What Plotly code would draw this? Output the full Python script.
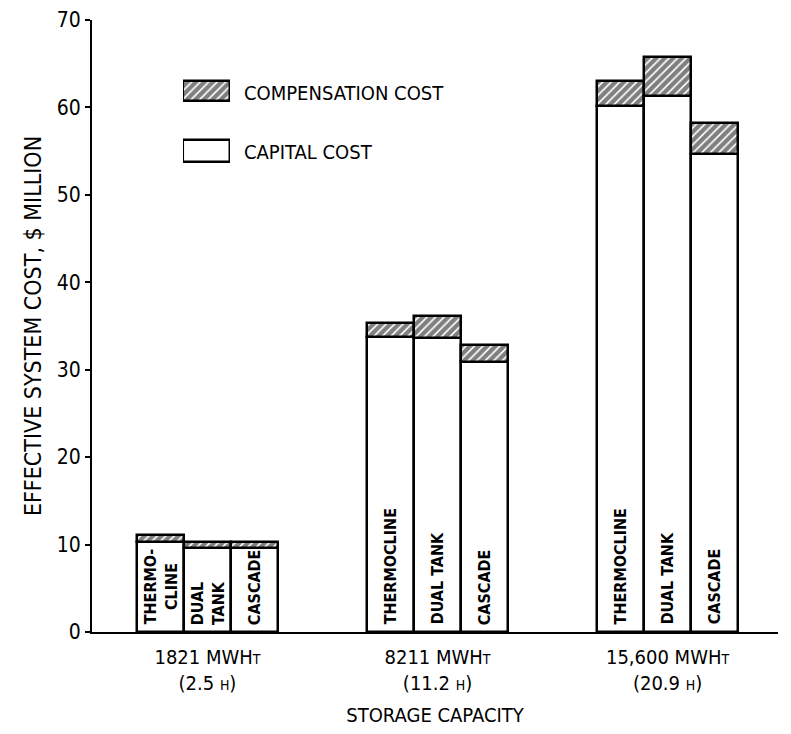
import plotly.graph_objects as go
import numpy as np

# ---- data ----
capacity_line1 = ["1821 MWH", "8211 MWH", "15,600 MWH"]
capacity_line2 = ["(2.5 ", "(11.2 ", "(20.9 "]
system_types = ["THERMOCLINE", "DUAL TANK", "CASCADE"]
group1_labels = ["THERMO-<br>CLINE", "DUAL<br>TANK", "CASCADE"]

capital_thermocline = [10.3, 33.7, 60.2]
capital_dualtank = [9.6, 33.6, 61.3]
capital_cascade = [9.6, 30.9, 54.7]

comp_thermocline = [0.8, 1.7, 2.8]
comp_dualtank = [0.7, 2.6, 4.5]
comp_cascade = [0.7, 1.9, 3.5]

y_ticks = [0, 10, 20, 30, 40, 50, 60, 70]

# ---- styling ----
FONT = "Liberation Sans Narrow, DejaVu Sans Condensed, Roboto Condensed, sans-serif"
BAR_W = 0.204
HATCH = dict(shape="/", fgcolor="black", bgcolor="white", size=6, solidity=0.72)
capital = [capital_thermocline, capital_dualtank, capital_cascade]
comp = [comp_thermocline, comp_dualtank, comp_cascade]

fig = go.Figure()
groups = np.arange(len(capacity_line1))
for k, name in enumerate(system_types):
    xs = groups + (k - 1) * BAR_W
    fig.add_trace(go.Bar(
        x=xs, y=capital[k], width=BAR_W,
        marker=dict(color="white", line=dict(color="black", width=2.5)),
        name="CAPITAL COST", showlegend=False,
    ))
    fig.add_trace(go.Bar(
        x=xs, y=comp[k], base=capital[k], width=BAR_W,
        marker=dict(color="white", line=dict(color="black", width=2.5), pattern=HATCH),
        name="COMPENSATION COST", showlegend=False,
    ))
    # vertical labels inside bars
    for g in groups:
        txt = group1_labels[k] if g == 0 else name
        fig.add_annotation(
            x=g + (k - 1) * BAR_W, y=0.6, text="<b>" + txt + "</b>",
            textangle=-90, showarrow=False, xanchor="center", yanchor="bottom",
            font=dict(family=FONT, size=16, color="black"),
        )

# ---- custom legend (inset axes) ----
leg_items = ["CAPITAL COST", "COMPENSATION COST"]
fig.add_trace(go.Bar(
    y=[leg_items[0]], x=[1], orientation="h", width=0.36,
    marker=dict(color="white", line=dict(color="black", width=2.5)),
    xaxis="x2", yaxis="y2", showlegend=False, hoverinfo="skip",
))
fig.add_trace(go.Bar(
    y=[leg_items[1]], x=[1], orientation="h", width=0.34,
    marker=dict(color="white", line=dict(color="black", width=2.5), pattern=HATCH),
    xaxis="x2", yaxis="y2", showlegend=False, hoverinfo="skip",
))
leg_y = [0.784, 0.881]
for t, yy in zip(leg_items, leg_y):
    fig.add_annotation(
        xref="paper", yref="paper", x=0.218, y=yy, text=t, showarrow=False,
        xanchor="left", yanchor="middle",
        font=dict(family=FONT, size=20, color="black"),
    )

small = "<span style='font-size:14px'>%s</span>"
ticktext = [f"{a}{small % 'T'}<br>{b}{small % 'H'})" for a, b in zip(capacity_line1, capacity_line2)]

fig.update_layout(
    width=783, height=726,
    margin=dict(l=84, r=13, t=12, b=102),
    paper_bgcolor="white", plot_bgcolor="white",
    barmode="overlay", bargap=0,
    font=dict(family=FONT, size=20, color="black"),
    xaxis=dict(
        range=[-0.502, 2.48], tickvals=list(groups), ticktext=ticktext,
        showgrid=False, zeroline=False, showline=True, linecolor="black", linewidth=2,
        ticks="outside", ticklen=6, tickcolor="rgba(0,0,0,0)",
        tickfont=dict(size=20), automargin=False,
        title=dict(text="STORAGE CAPACITY", font=dict(size=20), standoff=14),
    ),
    yaxis=dict(
        range=[0, 70], tickvals=y_ticks, showgrid=False, zeroline=False,
        showline=True, linecolor="black", linewidth=2,
        ticks="outside", ticklen=5, tickwidth=2, tickcolor="black",
        tickfont=dict(size=21), automargin=False,
        title=dict(text="EFFECTIVE SYSTEM COST, $ MILLION", font=dict(size=23), standoff=9),
    ),
    xaxis2=dict(domain=[0.1327, 0.2012], range=[0, 1], visible=False, fixedrange=True,
                anchor="y2", automargin=False),
    yaxis2=dict(domain=[0.737, 0.933], range=[-0.5, 1.5], visible=False, fixedrange=True,
                anchor="x2", type="category", categoryorder="array", categoryarray=leg_items,
                automargin=False),
)

fig.write_html("out.html")
